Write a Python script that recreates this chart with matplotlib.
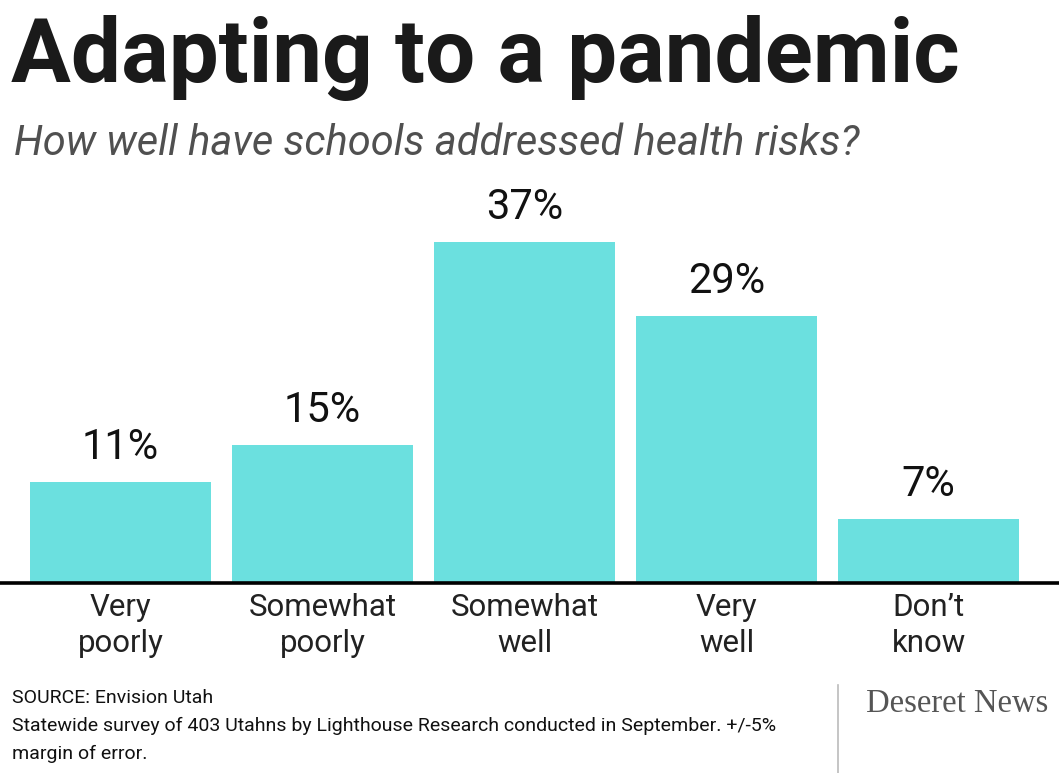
import matplotlib
matplotlib.use('Agg')
import matplotlib.pyplot as plt

## Data
## ====
categories = ['Very\npoorly', 'Somewhat\npoorly', 'Somewhat\nwell', 'Very\nwell', 'Don\u2019t\nknow']
values = [11, 15, 37, 29, 7]
value_labels = ['11%', '15%', '37%', '29%', '7%']

title = 'Adapting to a pandemic'
subtitle = 'How well have schools addressed health risks?'
source = 'SOURCE: Envision Utah'
note_lines = ['Statewide survey of 403 Utahns by Lighthouse Research conducted in September. +/-5%',
              'margin of error.']
brand = 'Deseret News'

font = 'Roboto'
bar_color = '#6be0df'

fig = plt.figure(figsize=(10.59, 7.73), dpi=100)
ax = fig.add_axes([0, 1 - 583 / 773, 1, 383 / 773])

x = list(range(len(values)))
ax.bar(x, values, width=0.9, color=bar_color, zorder=2)
ax.set_xlim(-0.597, 4.646)
ax.set_ylim(0, 41.6)
ax.axhline(0, color='black', linewidth=2.6, zorder=3, clip_on=False)

for xi, v, lab in zip(x, values, value_labels):
    ax.annotate(lab, (xi, v), xytext=(0, 10), textcoords='offset points',
                ha='center', va='bottom', fontsize=30, family=font, color='#111111')

for xi, cat in zip(x, categories):
    ax.annotate(cat, (xi, 0), xytext=(0, -7), textcoords='offset points',
                ha='center', va='top', fontsize=22.5, family=font, color='#222222',
                linespacing=1.3)

ax.axis('off')

## Header
fig.text(0.01, 1 - 82 / 773, title, fontsize=64, fontweight='bold', family=font,
         color='#1a1a1a', va='baseline')
fig.text(0.013, 1 - 155 / 773, subtitle, fontsize=30, style='italic',
         family=font, color='#505050', va='baseline')

## Footer
fig.text(0.011, 1 - 703 / 773, source, fontsize=14, family=font, color='#111111', va='baseline')
for i, line in enumerate(note_lines):
    fig.text(0.011, 1 - (731 + 28 * i) / 773, line, fontsize=14, family=font,
             color='#111111', va='baseline')

fig.add_artist(plt.Line2D([838 / 1059, 838 / 1059], [0, 1 - 685 / 773], color='#bbbbbb', linewidth=1.2))
fig.text(866 / 1059, 1 - 712 / 773, brand, fontsize=23.5, family='Liberation Serif', color='#555555',
         va='baseline')

fig.savefig('out.png', dpi=100)
